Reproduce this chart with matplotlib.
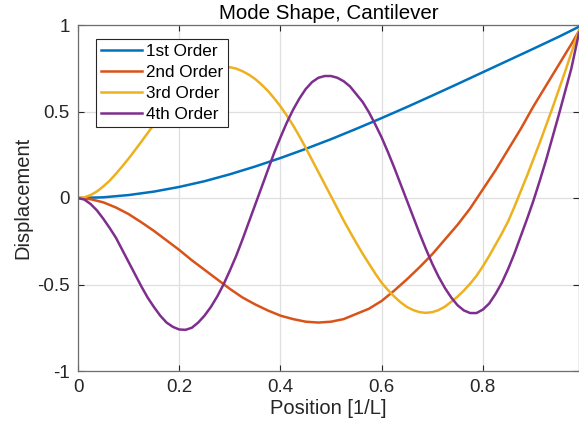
import matplotlib
matplotlib.use('Agg')
import matplotlib.pyplot as plt
from matplotlib.ticker import FormatStrFormatter

# values
x_coarse = [0, 0.05, 0.1, 0.15, 0.2, 0.25, 0.3, 0.35, 0.4, 0.45, 0.5, 0.55, 0.6,
            0.65, 0.7, 0.75, 0.8, 0.85, 0.9, 0.95, 0.99]
x_fine = [i / 40 for i in range(40)] + [0.99]     # 0 .. 0.975 step 0.025, then 0.99
x_dense = [i / 80 for i in range(79)] + [0.99]    # 0 .. 0.975 step 0.0125, then 0.99

mode1 = [0, 0.004, 0.017, 0.037, 0.064, 0.097, 0.137, 0.182, 0.231, 0.284, 0.340,
         0.400, 0.462, 0.526, 0.592, 0.659, 0.727, 0.795, 0.863, 0.932, 0.99]
mode2 = [0, -0.007, -0.025, -0.055, -0.093, -0.14, -0.19, -0.245, -0.30, -0.36,
         -0.415, -0.47, -0.525, -0.575, -0.615, -0.65, -0.68, -0.70, -0.715, -0.72,
         -0.715, -0.70, -0.67, -0.64, -0.595, -0.535, -0.47, -0.40, -0.325, -0.24,
         -0.155, -0.06, 0.05, 0.16, 0.28, 0.40, 0.53, 0.65, 0.77, 0.89, 0.965]
mode3 = [0, 0.004, 0.017, 0.038, 0.067, 0.10, 0.14, 0.183, 0.228, 0.276,
         0.325, 0.375, 0.425, 0.473, 0.52, 0.564, 0.605, 0.642, 0.675, 0.702,
         0.724, 0.740, 0.752, 0.757, 0.756, 0.748, 0.733, 0.713, 0.688, 0.656,
         0.62, 0.577, 0.53, 0.477, 0.42, 0.357, 0.29, 0.22, 0.15, 0.08,
         0.01, -0.06, -0.13, -0.196, -0.26, -0.322, -0.38, -0.437, -0.49, -0.532,
         -0.57, -0.603, -0.63, -0.648, -0.66, -0.664, -0.66, -0.648, -0.628, -0.60,
         -0.57, -0.535, -0.495, -0.45, -0.395, -0.335, -0.27, -0.205, -0.135, -0.05,
         0.04, 0.13, 0.225, 0.32, 0.42, 0.52, 0.625, 0.73, 0.84, 0.97]
mode4 = [0, -0.009, -0.035, -0.072, -0.12, -0.173, -0.23, -0.30, -0.37, -0.44,
         -0.51, -0.575, -0.63, -0.68, -0.72, -0.745, -0.76, -0.762, -0.75, -0.72,
         -0.68, -0.63, -0.57, -0.50, -0.42, -0.335, -0.24, -0.14, -0.04, 0.06,
         0.16, 0.26, 0.35, 0.435, 0.51, 0.575, 0.63, 0.67, 0.695, 0.705,
         0.705, 0.695, 0.675, 0.645, 0.60, 0.555, 0.495, 0.425, 0.35, 0.265,
         0.175, 0.08, -0.015, -0.11, -0.205, -0.295, -0.38, -0.455, -0.52, -0.575,
         -0.62, -0.65, -0.665, -0.665, -0.645, -0.61, -0.555, -0.49, -0.41, -0.32,
         -0.22, -0.12, -0.015, 0.10, 0.22, 0.35, 0.48, 0.615, 0.75, 0.955]

labels = ['1st Order', '2nd Order', '3rd Order', '4th Order']
colors = ['#0072BD', '#D95319', '#EDB120', '#7E2F8E']

plt.rcParams['font.family'] = ['Liberation Sans', 'DejaVu Sans']
txt = '#262626'

fig = plt.figure(figsize=(5.79, 4.34), dpi=100)
ax = fig.add_axes([78 / 579, 63 / 434, 501 / 579, 346 / 434])

ax.plot(x_coarse, mode1, color=colors[0], lw=1.8, label=labels[0])
ax.plot(x_fine, mode2, color=colors[1], lw=1.8, label=labels[1])
ax.plot(x_dense, mode3, color=colors[2], lw=1.8, label=labels[2])
ax.plot(x_dense, mode4, color=colors[3], lw=1.8, label=labels[3])

ax.set_xlim(0, 0.99)
ax.set_ylim(-1, 1)
ax.set_xticks([0, 0.2, 0.4, 0.6, 0.8])
ax.set_yticks([-1, -0.5, 0, 0.5, 1])
ax.xaxis.set_major_formatter(FormatStrFormatter('%g'))
ax.yaxis.set_major_formatter(FormatStrFormatter('%g'))
ax.grid(True, color='#dfdfdf', lw=0.9)
ax.set_axisbelow(True)
ax.tick_params(direction='in', length=4, width=0.8, top=True, right=True,
               labelsize=13.5, colors=txt, pad=6)
for s in ax.spines.values():
    s.set_color('#6e6e6e')
    s.set_linewidth(0.9)

ax.set_title('Mode Shape, Cantilever', fontsize=14.8, color='k', pad=4)
ax.set_xlabel('Position [1/L]', fontsize=14.5, color=txt, labelpad=2)
ax.set_ylabel('Displacement', fontsize=14.5, color=txt, labelpad=3)

leg = ax.legend(loc='upper left', bbox_to_anchor=(0.036, 0.96), borderaxespad=0,
                fancybox=False, framealpha=1, edgecolor=txt, fontsize=12.3,
                handlelength=2.4, handletextpad=0.2, labelspacing=0.35,
                borderpad=0.3)
leg.get_frame().set_linewidth(0.8)

fig.savefig('out.png', dpi=100)
